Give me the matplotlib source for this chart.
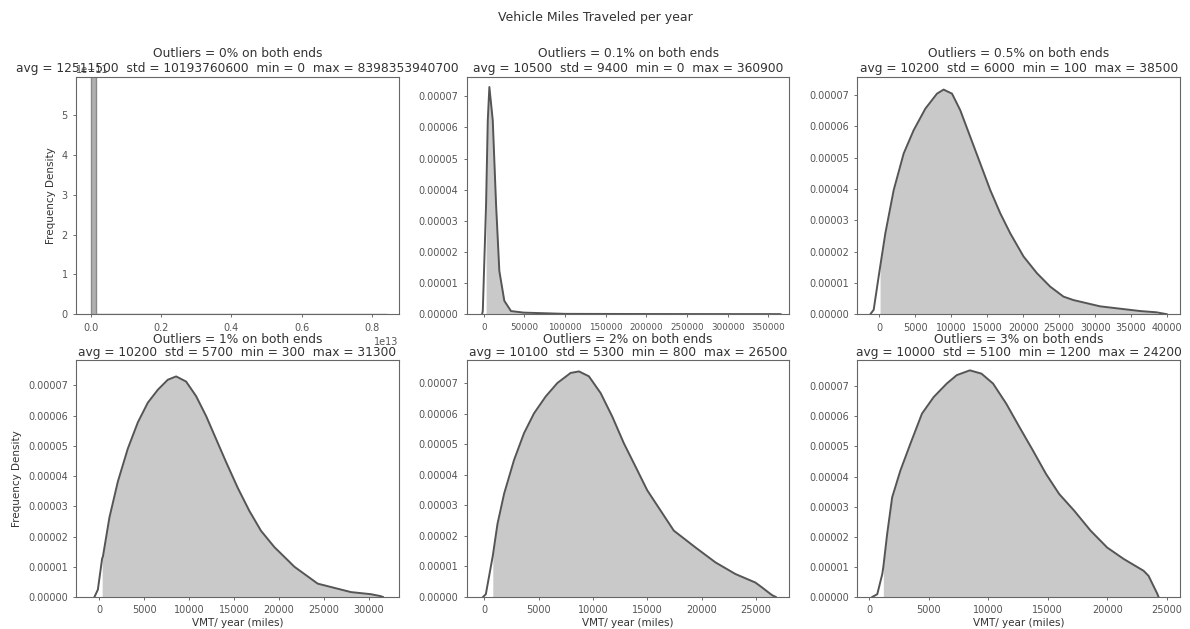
import matplotlib
matplotlib.use('Agg')
import matplotlib.pyplot as plt
import numpy as np
from matplotlib.ticker import FormatStrFormatter, ScalarFormatter

# panel titles / stats
outliers = ['0%', '0.1%', '0.5%', '1%', '2%', '3%']
avgs = [12511500, 10500, 10200, 10200, 10100, 10000]
stds = [10193760600, 9400, 6000, 5700, 5300, 5100]
mins = [0, 0, 100, 300, 800, 1200]
maxs = [8398353940700, 360900, 38500, 31300, 26500, 24200]

# kde curves (x in miles, y in 1e-5 density; panel 1 in 1e-11)
x1 = [0, 0, 1.4e11, 1.4e11, 8.4e12]
y1 = [0, 9, 9, 0, 0]

x2 = [-2050, -1225, 2820, 4900, 6860, 11030, 15070, 19110, 25240, 33440, 49000,
      100000, 200000, 300000, 360900, 365000]
y2 = [0, 0.1, 3.54, 6.23, 7.30, 6.23, 3.54, 1.39, 0.43, 0.1, 0.05,
      0.01, 0.005, 0.003, 0.002, 0]

x3 = [-1250, -790, -100, 100, 830, 1990, 3380, 4760, 6390, 8010, 8930, 10100,
      11250, 12640, 14030, 15420, 16810, 18200, 20050, 21900, 23750, 25600,
      26990, 30690, 36250, 38500, 39950]
y3 = [0, 0.14, 1.2, 1.5, 2.58, 3.96, 5.13, 5.87, 6.56, 7.04, 7.17, 7.04,
      6.51, 5.66, 4.81, 3.96, 3.22, 2.58, 1.84, 1.31, 0.88, 0.56,
      0.45, 0.25, 0.1, 0.06, 0.0]

x4 = [-560, -180, 300, 380, 1110, 2050, 3160, 4280, 5390, 6510, 7620, 8550,
      9660, 10770, 11890, 13000, 14110, 15420, 16710, 18010, 19500, 20980,
      21730, 24330, 28040, 30270, 31300, 31600]
y4 = [0, 0.24, 1.28, 1.33, 2.63, 3.82, 4.91, 5.78, 6.43, 6.86, 7.19, 7.30,
      7.13, 6.65, 5.99, 5.23, 4.47, 3.61, 2.85, 2.19, 1.65, 1.22,
      1.0, 0.44, 0.16, 0.09, 0.03, 0]

x5 = [-90, 160, 770, 800, 1230, 1840, 2750, 3670, 4590, 5660, 6730, 7950,
      8720, 9630, 10710, 11780, 12840, 13920, 14990, 16210, 17430,
      19420, 21260, 23090, 24930, 25540, 26300, 26500, 26800]
y5 = [0, 0.09, 1.29, 1.35, 2.39, 3.38, 4.48, 5.36, 6.01, 6.56, 7.00, 7.33,
      7.38, 7.22, 6.67, 5.90, 5.03, 4.26, 3.49, 2.83, 2.17,
      1.62, 1.13, 0.75, 0.47, 0.31, 0.1, 0.05, 0]

x6 = [275, 690, 1110, 1200, 1520, 1940, 2630, 3470, 4440, 5420, 6520, 7360,
      8460, 9440, 10410, 11520, 12630, 13750, 14850, 15960, 17210, 18600,
      19990, 21380, 23040, 23460, 24200, 24300]
y6 = [0, 0.09, 0.76, 1.0, 2.09, 3.31, 4.2, 5.09, 6.09, 6.64, 7.09, 7.37,
      7.53, 7.42, 7.09, 6.42, 5.64, 4.87, 4.09, 3.42, 2.87, 2.2,
      1.64, 1.26, 0.87, 0.7, 0.1, 0]

curves_x = [x1, x2, x3, x4, x5, x6]
curves_y = [y1, y2, y3, y4, y5, y6]
y_units = [1e-11, 1e-5, 1e-5, 1e-5, 1e-5, 1e-5]

xticks = [
    [0, 0.2e13, 0.4e13, 0.6e13, 0.8e13],
    [0, 50000, 100000, 150000, 200000, 250000, 300000, 350000],
    [0, 5000, 10000, 15000, 20000, 25000, 30000, 35000, 40000],
    [0, 5000, 10000, 15000, 20000, 25000, 30000],
    [0, 5000, 10000, 15000, 20000, 25000],
    [0, 5000, 10000, 15000, 20000, 25000],
]
yticks_small = [0, 1e-5, 2e-5, 3e-5, 4e-5, 5e-5, 6e-5, 7e-5]
yticks_first = [0, 1e-11, 2e-11, 3e-11, 4e-11, 5e-11]

xlims = [(-0.043e13, 0.877e13), (-20900, 375800), (-3050, 41800),
         (-2600, 33370), (-1590, 28050), (-975, 26100)]
ylims = [(0, 5.95e-11), (0, 7.61e-5), (0, 7.56e-5),
         (0, 7.84e-5), (0, 7.75e-5), (0, 7.87e-5)]

TEXT = '#333333'
FILL = '#c9c9c9'
LINE = '#555555'


class Order13Formatter(ScalarFormatter):
    # keep the 1e13 offset like the original
    def _set_order_of_magnitude(self):
        self.orderOfMagnitude = 13


def plot_panel(ax, i):
    x = np.array(curves_x[i], dtype=float)
    y = np.array(curves_y[i], dtype=float) * y_units[i]
    inside = (x >= mins[i]) & (x <= maxs[i])
    if i == 0:
        ax.fill_between(x, 0, y, color='#b0b0b0', linewidth=0)
        ax.plot(x, y, color='#8a8a8a', linewidth=1.0)
    else:
        ax.fill_between(x, 0, y, where=inside, color=FILL, linewidth=0)
        ax.plot(x, y, color=LINE, linewidth=1.4)

    ax.set_xlim(*xlims[i])
    ax.set_ylim(*ylims[i])
    ax.set_xticks(xticks[i])
    if i == 0:
        ax.set_yticks(yticks_first)
        ax.xaxis.set_major_formatter(Order13Formatter())
    else:
        ax.set_yticks(yticks_small)
        ax.yaxis.set_major_formatter(FormatStrFormatter('%.5f'))

    title = ('Outliers = %s on both ends\navg = %d  std = %d  min = %d  max = %d'
             % (outliers[i], avgs[i], stds[i], mins[i], maxs[i]))
    if i < 3:
        ax.set_title(title, fontsize=8.8, color=TEXT, pad=4, y=1.0)
    else:
        ax.set_title(title, fontsize=8.8, color=TEXT, pad=3, y=1.0, linespacing=1.0)

    ax.tick_params(labelsize=7, colors='#555555', length=2.5, width=0.6)
    if i == 1:
        ax.tick_params(axis='x', labelsize=6.3)
    ax.xaxis.get_offset_text().set_fontsize(7)
    ax.yaxis.get_offset_text().set_fontsize(7)
    for s in ax.spines.values():
        s.set_color('#666666')
        s.set_linewidth(0.8)
    if i in (0, 3):
        ax.set_ylabel('Frequency Density', fontsize=7.5, color=TEXT)
    if i >= 3:
        ax.set_xlabel('VMT/ year (miles)', fontsize=7.5, color=TEXT, labelpad=2)


def main():
    fig, axes = plt.subplots(2, 3, figsize=(11.9, 6.29), dpi=100)
    fig.subplots_adjust(left=0.064, right=0.9916, top=0.877, bottom=0.051,
                        wspace=0.211, hspace=0.194)
    for i, ax in enumerate(axes.flat):
        plot_panel(ax, i)
    fig.suptitle('Vehicle Miles Traveled per year', fontsize=9, color=TEXT, y=0.982)
    fig.savefig('out.png', dpi=100, facecolor='white')


main()
